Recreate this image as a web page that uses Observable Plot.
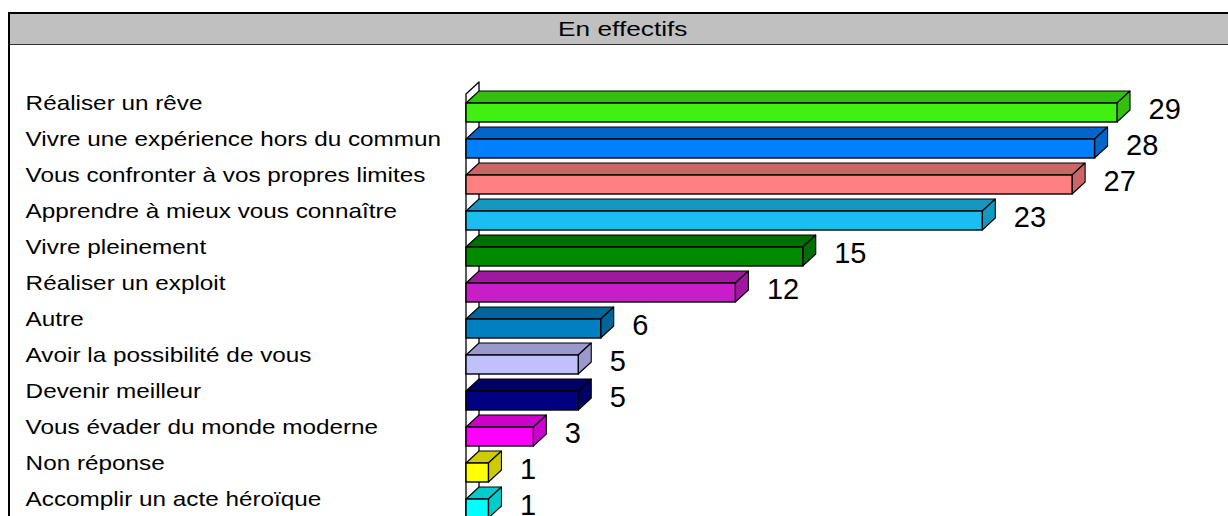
<!DOCTYPE html>
<html>
<head>
<meta charset="utf-8">
<script src="https://cdn.jsdelivr.net/npm/d3@7"></script>
<script src="https://cdn.jsdelivr.net/npm/@observablehq/plot@0.6"></script>
<style>
  html, body { margin: 0; padding: 0; background: #fff; width: 1228px; height: 516px; overflow: hidden; }
  #frame { position: absolute; left: 8px; top: 12px; width: 1226px; height: 600px;
           border-left: 2px solid #000; border-top: 2px solid #000; }
  #title { height: 30px; background: #c0c0c0; border-bottom: 1px solid #333; text-align: center;
           font-family: "Liberation Sans", Arial, sans-serif; font-size: 21px; line-height: 30px; color: #000; }
  #title span { display: inline-block; transform: scaleX(1.25); }
  #chart { position: absolute; left: 0; top: 45px; }
</style>
</head>
<body>
<div id="frame"><div id="title"><span>En effectifs</span></div></div>
<div id="chart"></div>
<script>
const categories = [
  "Réaliser un rêve",
  "Vivre une expérience hors du commun",
  "Vous confronter à vos propres limites",
  "Apprendre à mieux vous connaître",
  "Vivre pleinement",
  "Réaliser un exploit",
  "Autre",
  "Avoir la possibilité de vous",
  "Devenir meilleur",
  "Vous évader du monde moderne",
  "Non réponse",
  "Accomplir un acte héroïque"
];
const values = [29, 28, 27, 23, 15, 12, 6, 5, 5, 3, 1, 1];
const frontColors = ["#40f010", "#0080ff", "#ff8080", "#1abef0", "#008a00", "#c81ec8",
                     "#0080c0", "#c0c0ff", "#000080", "#ff00ff", "#ffff00", "#00ffff"];
const sideColors  = ["#33c00d", "#0066cc", "#cc6666", "#1598c0", "#006e00", "#a0189f",
                     "#006699", "#9999cc", "#000066", "#cc00cc", "#cccc00", "#00cccc"];

// 3D geometry (in data units)
const depthX = 0.58;        // horizontal depth offset
const depthY = 12 / 36;     // vertical depth offset (band = 1 unit)
const frontTop = 13 / 36, frontBottom = 32 / 36;

const rows = categories.map((c, i) => ({c, i, v: values[i], front: frontColors[i], side: sideColors[i]}));

const topFaces = rows.flatMap(r => [
  {i: r.i, y: r.i + frontTop, x1: 0, x2: r.v, fill: r.side},
  {i: r.i, y: r.i + frontTop - depthY, x1: depthX, x2: r.v + depthX, fill: r.side}
]);
const rightFaces = rows.flatMap(r => [
  {i: r.i, x: r.v, y1: r.i + frontTop, y2: r.i + frontBottom, fill: r.side},
  {i: r.i, x: r.v + depthX, y1: r.i + frontTop - depthY, y2: r.i + frontBottom - depthY, fill: r.side}
]);
const wall = [
  {x: 0, y1: 0.11, y2: 12.8},
  {x: depthX, y1: 0.11 - depthY, y2: 12.8 - depthY}
];

const chart = Plot.plot({
  width: 1228,
  height: 480,
  marginLeft: 466,
  marginRight: 111,
  marginTop: 45,
  marginBottom: 3,
  style: {fontFamily: "'Liberation Sans', Arial, sans-serif", background: "transparent", color: "#000"},
  x: {domain: [0, 29], axis: null},
  y: {domain: [12, 0], axis: null},
  color: {type: "identity"},
  marks: [
    Plot.areaY(wall, {x: "x", y1: "y1", y2: "y2", fill: "white", stroke: "black", strokeWidth: 1.3}),
    Plot.areaX(topFaces, {y: "y", x1: "x1", x2: "x2", z: "i", fill: "fill", stroke: "black", strokeWidth: 1.1}),
    Plot.areaY(rightFaces, {x: "x", y1: "y1", y2: "y2", z: "i", fill: "fill", stroke: "black", strokeWidth: 1.1}),
    Plot.rect(rows, {x1: () => 0, x2: "v", y1: r => r.i + frontTop, y2: r => r.i + frontBottom,
                     fill: "front", stroke: "black", strokeWidth: 1.4}),
    Plot.text(rows, {x: r => r.v + depthX, y: r => r.i + 0.52, text: r => String(r.v),
                     dx: 18, textAnchor: "start", fontSize: 29, fill: "black"}),
    Plot.text(rows, {y: r => r.i + 0.37, text: "c", frameAnchor: "left", dx: 25 - 466,
                     textAnchor: "start", fontSize: 20, fill: "black", ariaLabel: "categories"})
  ]
});
document.getElementById("chart").appendChild(chart);

// stretch category labels horizontally like the original rendering
const textGroups = chart.querySelectorAll('g[aria-label="text"], g[aria-label="categories"]');
const catGroup = textGroups[textGroups.length - 1];
if (catGroup) {
  const wrap = document.createElementNS("http://www.w3.org/2000/svg", "g");
  wrap.setAttribute("transform", "translate(25,0) scale(1.215,1) translate(-25,0)");
  catGroup.parentNode.insertBefore(wrap, catGroup);
  wrap.appendChild(catGroup);
}
</script>
</body>
</html>
